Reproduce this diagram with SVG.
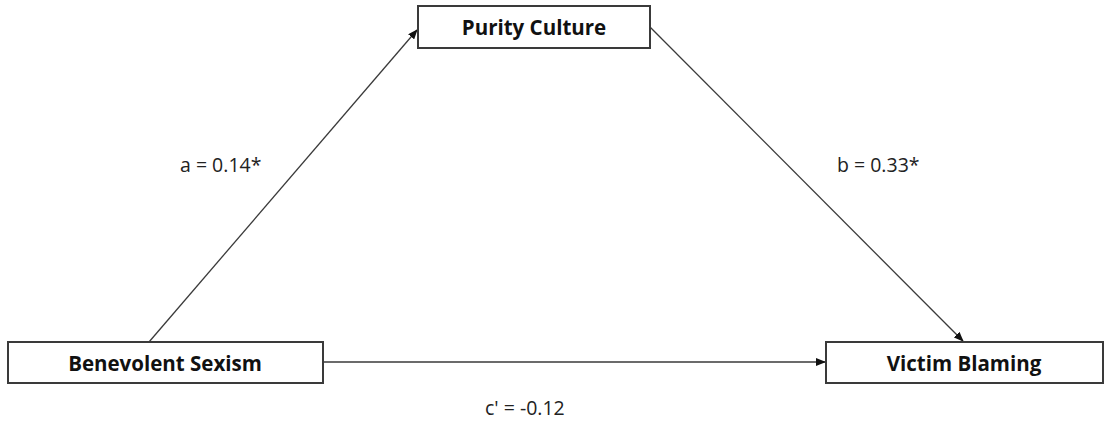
<svg xmlns="http://www.w3.org/2000/svg" width="1105" height="421" viewBox="0 0 1105 421">
<style>
.box{fill:#fff;stroke:#3a3a3a;stroke-width:2}
.lbl{font-family:"Open Sans","Liberation Sans",sans-serif;font-weight:bold;font-size:20.5px;fill:#111;text-anchor:middle}
.coef{font-family:"Open Sans","Liberation Sans",sans-serif;font-size:19.5px;fill:#222}
.edge{stroke:#3a3a3a;stroke-width:1.3;fill:none;marker-end:url(#ah)}
</style>
<defs>
<marker id="ah" markerWidth="10" markerHeight="8" refX="9" refY="4" orient="auto" markerUnits="userSpaceOnUse">
<path d="M0,0 L10,4 L0,8 Z" fill="#111"/>
</marker>
</defs>
<rect width="1105" height="421" fill="#fff"/>
<g id="connectors">
<line class="edge" x1="149" y1="342" x2="417" y2="30"/>
<line class="edge" x1="650" y1="27" x2="963" y2="341"/>
<line class="edge" x1="323" y1="362" x2="825" y2="362"/>
</g>
<g id="purity-culture">
<rect class="box" x="418" y="6" width="232" height="42"/>
<text class="lbl" x="534" y="35">Purity Culture</text>
</g>
<g id="benevolent-sexism">
<rect class="box" x="8" y="342" width="315" height="41"/>
<text class="lbl" x="165" y="371">Benevolent Sexism</text>
</g>
<g id="victim-blaming">
<rect class="box" x="826" y="342" width="277" height="41"/>
<text class="lbl" x="964" y="371">Victim Blaming</text>
</g>
<g id="labels">
<text class="coef" x="180" y="172">a = 0.14*</text>
<text class="coef" x="837" y="172">b = 0.33*</text>
<text class="coef" x="485" y="415">c' = -0.12</text>
</g>
</svg>
